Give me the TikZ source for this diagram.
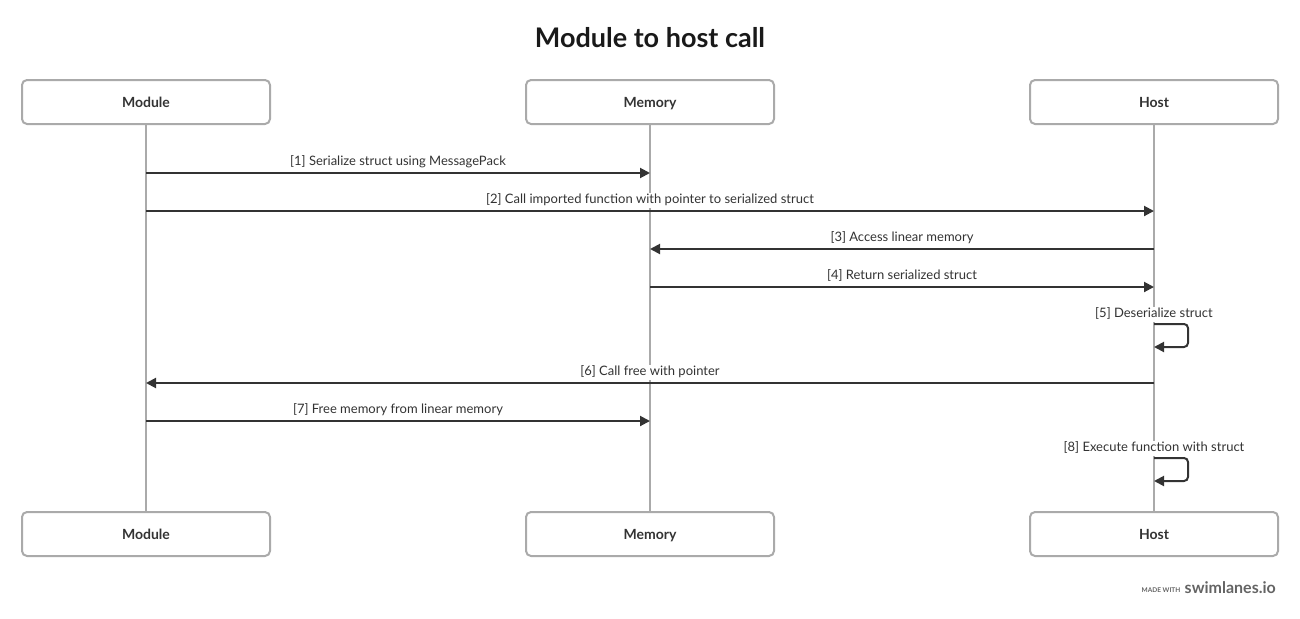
\documentclass[tikz,border=0pt]{standalone}
\usepackage{fontspec}
\setmainfont{Lato}
\usetikzlibrary{arrows.meta,positioning,calc}
\definecolor{lanegray}{RGB}{170,170,170}
\definecolor{inkgray}{RGB}{51,51,51}
\definecolor{footgray}{RGB}{100,100,100}
\newcommand*{\titlestyle}{\fontsize{27}{32}\selectfont\bfseries\color{black!90}}
\newcommand*{\boxtextstyle}{\fontsize{14}{16}\selectfont\bfseries\color{inkgray}}
\newcommand*{\msgtextstyle}{\fontsize{13}{15}\selectfont\color{inkgray}}
\newcommand{\callarrow}[5]{%
   % label name, y position, from lane, to lane, text
   \node[fill=white, inner sep=1.5pt, text height=9pt, text depth=3pt, font=\msgtextstyle]
      (#1) at ($(#3.south |- 0,#2)!0.5!(#4.south |- 0,#2) + (0,-11)$) {#5};
   \draw[inkgray, line width=2pt, -{Triangle[length=10pt,width=10pt]}]
      (#3.south |- 0,#2) -- (#4.south |- 0,#2);
}
\newcommand{\selfcall}[4]{%
   % label name, y position, lane, text
   \node[fill=white, inner sep=1.5pt, text height=9pt, text depth=3pt, font=\msgtextstyle]
      (#1) at ($(#3.south |- 0,#2) + (0,-10)$) {#4};
   \draw[inkgray, line width=2pt, rounded corners=4pt,
         -{Triangle[length=10pt,width=10pt]}]
      (#3.south |- 0,#2) -- ++(34,0) -- ++(0,23) -- (#3.south |- 0,#2+23);
}

\begin{document}
\begin{tikzpicture}[x=1pt, y=-1pt]
    \useasboundingbox (0,0) rectangle (1300,618);

    \node[font=\titlestyle] (title) at (650,38) {Module to host call};

    % lanes
    \tikzset{lanebox/.style={draw=lanegray, line width=2pt, fill=white,
        rounded corners=5pt, minimum width=248pt, minimum height=44pt,
        text height=10pt, text depth=0pt, font=\boxtextstyle}}
    \node[lanebox] (module)  at (146,102) {Module};
    \node[lanebox] (memory)  at (650,102) {Memory};
    \node[lanebox] (host)    at (1154,102) {Host};
    \node[lanebox] (moduleb) at (146,534) {Module};
    \node[lanebox] (memoryb) at (650,534) {Memory};
    \node[lanebox] (hostb)   at (1154,534) {Host};

    \draw[lanegray, line width=2pt] (module) -- (moduleb);
    \draw[lanegray, line width=2pt] (memory) -- (memoryb);
    \draw[lanegray, line width=2pt] (host) -- (hostb);

    % messages
    \callarrow{serialize}{173}{module}{memory}{[1] Serialize struct using MessagePack}
    \callarrow{callimport}{211}{module}{host}{[2] Call imported function with pointer to serialized struct}
    \callarrow{access}{249}{host}{memory}{[3] Access linear memory}
    \callarrow{giveback}{287}{memory}{host}{[4] Return serialized struct}
    \selfcall{deserialize}{324}{host}{[5] Deserialize struct}
    \callarrow{callfree}{383}{host}{module}{[6] Call free with pointer}
    \callarrow{freemem}{421}{module}{memory}{[7] Free memory from linear memory}
    \selfcall{execute}{458}{host}{[8] Execute function with struct}

    % footer
    \node[anchor=east, inner sep=0pt, text=footgray,
        font=\fontsize{16}{18}\selectfont\bfseries] (brand) at (1276,588) {swimlanes.io};
    \node[left=4pt of brand.south west, anchor=south east, inner sep=0pt, yshift=2pt,
        text=footgray, font=\fontsize{6.5}{8}\selectfont\bfseries] (madewith) {MADE WITH};

\end{tikzpicture}
\end{document}
